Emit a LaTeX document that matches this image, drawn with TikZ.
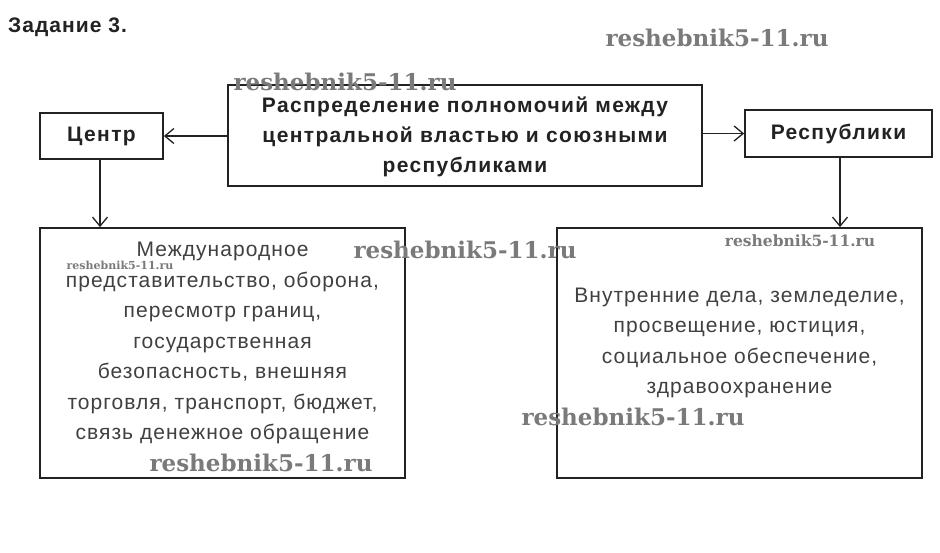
\documentclass[tikz,border=0pt]{standalone}
\usepackage{fontspec}
\setmainfont{Liberation Sans}
\newfontfamily\headfont[LetterSpace=6.5]{Liberation Sans}
\newfontfamily\bodyfont[LetterSpace=5]{Liberation Sans}
\newfontfamily\wmfont{DejaVu Serif}
\usetikzlibrary{arrows.meta}
\definecolor{ink}{HTML}{222222}
\definecolor{body}{HTML}{404040}
\definecolor{wm}{HTML}{7a7a7a}
\tikzset{
  box/.style={draw=ink, line width=1.8pt, inner sep=0pt},
  conn/.style={draw=ink, line width=1.3pt, -{Straight Barb[length=9pt,width=15pt,line width=1.3pt]}},
  headtxt/.style={font=\headfont\bfseries\fontsize{21}{30}\selectfont, text=ink, align=center, inner sep=0pt},
  bodytxt/.style={font=\bodyfont\fontsize{21}{30.5}\selectfont, text=body, align=center, inner sep=0pt},
  wmbig/.style={font=\wmfont\bfseries\fontsize{23}{23}\selectfont, text=wm, inner sep=0pt},
  wmsmall/.style={font=\wmfont\bfseries\fontsize{15.5}{15.5}\selectfont, text=wm, inner sep=0pt},
  wmtiny/.style={font=\wmfont\bfseries\fontsize{11}{11}\selectfont, text=wm, inner sep=0pt}
}
\begin{document}
\begin{tikzpicture}[x=1pt,y=-1pt]
\useasboundingbox[fill=white] (0,0) rectangle (940,552);
\node[anchor=west, font=\bodyfont\bfseries\fontsize{21}{21}\selectfont, text=ink, inner sep=0pt] (title) at (8,27) {Задание 3.};
% boxes
\node[box, minimum width=474pt, minimum height=101pt] (main) at (465,135.5) {};
\node[box, minimum width=123pt, minimum height=46pt] (centr) at (101.5,136) {};
\node[box, minimum width=187pt, minimum height=47pt] (resp) at (838.5,133.5) {};
\node[box, minimum width=365pt, minimum height=250pt] (lbox) at (222.5,353) {};
\node[box, minimum width=365pt, minimum height=250pt] (rbox) at (739.5,353) {};
% texts
\node[headtxt] (maintxt) at ([yshift=-1pt]main.center) {Распределение полномочий между\\центральной властью и союзными\\республиками};
\node[headtxt] (centrtxt) at (centr.center) {Центр};
\node[headtxt] (resptxt) at (resp.center) {Республики};
\node[bodytxt] (ltxt) at ([yshift=10pt]lbox.center) {Международное\\представительство, оборона,\\пересмотр границ,\\государственная\\безопасность, внешняя\\торговля, транспорт, бюджет,\\связь денежное обращение};
\node[bodytxt] (rtxt) at ([yshift=10pt]rbox.center) {Внутренние дела, земледелие,\\просвещение, юстиция,\\социальное обеспечение,\\здравоохранение};
% connectors
\draw[conn] (main.west |- centr.east) -- (centr.east);
\draw[conn] (main.east |- resp.west) -- (resp.west);
\draw[conn] ([xshift=-1.5pt]centr.south) -- ([xshift=-1.5pt]centr.south |- lbox.north);
\draw[conn] ([xshift=1.5pt]resp.south) -- ([xshift=1.5pt]resp.south |- rbox.north);
% watermarks
\node[wmbig] (wm1) at (717,38) {reshebnik5-11.ru};
\node[wmbig] (wm2) at (345,82) {reshebnik5-11.ru};
\node[wmbig] (wm3) at (465,250) {reshebnik5-11.ru};
\node[wmsmall] (wm4) at (800,241) {reshebnik5-11.ru};
\node[wmtiny] (wm5) at (120,265) {reshebnik5-11.ru};
\node[wmbig] (wm6) at (261,463) {reshebnik5-11.ru};
\node[wmbig] (wm7) at (633,417) {reshebnik5-11.ru};
\end{tikzpicture}
\end{document}
